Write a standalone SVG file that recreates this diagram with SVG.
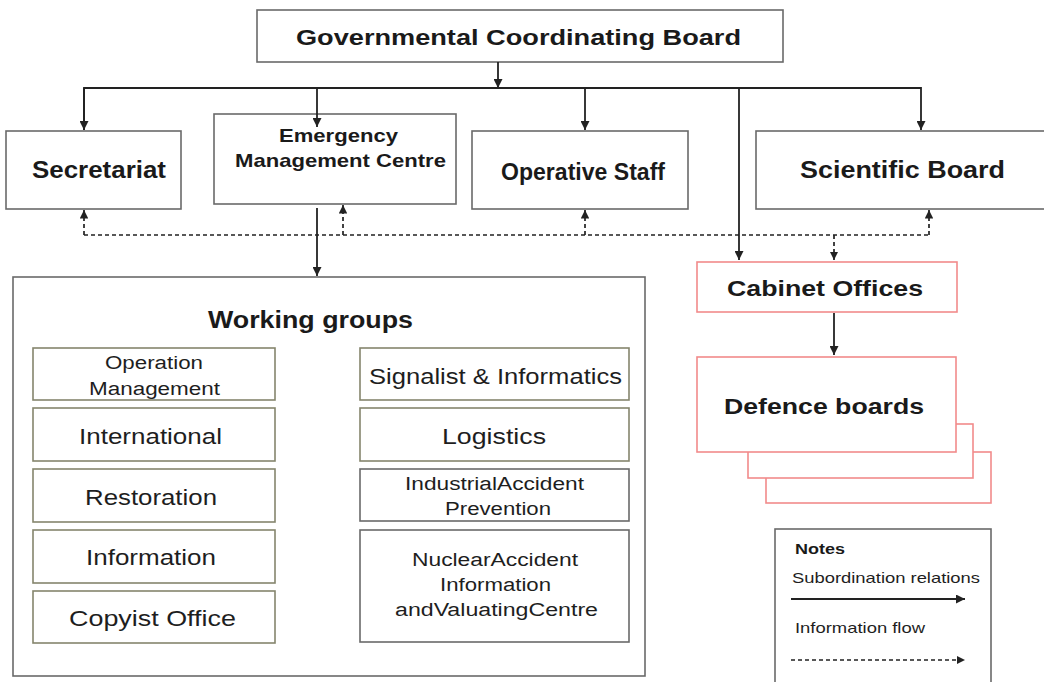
<svg xmlns="http://www.w3.org/2000/svg" width="1044" height="682" viewBox="0 0 1044 682">
<style>
.box{fill:#fff;stroke:#6a6a6a;stroke-width:1.6}
.red{fill:#fff;stroke:#f28b8b;stroke-width:1.6}
.wg{fill:#fff;stroke:#85856d;stroke-width:1.6}
.b{font-family:"Liberation Sans",Arial,sans-serif;font-weight:bold;fill:#1a1a1a;text-anchor:middle}
.r{font-family:"Liberation Sans",Arial,sans-serif;fill:#1e1e1e;text-anchor:middle}
.ln{fill:none;stroke:#222;stroke-width:1.8}
.dl{fill:none;stroke:#222;stroke-width:1.7;stroke-dasharray:4 3}
</style>
<defs>
<marker id="ah" viewBox="0 0 10 10" refX="10" refY="5" markerWidth="5" markerHeight="5" orient="auto" markerUnits="strokeWidth">
<path d="M0,0 L10,5 L0,10 z" fill="#222"/>
</marker>
</defs>
<rect width="1044" height="682" fill="#fff"/>

<g id="gcb">
<rect class="box" x="257" y="10" width="526" height="52"/>
<text class="b" x="518.5" y="45" font-size="22" textLength="445" lengthAdjust="spacingAndGlyphs">Governmental Coordinating   Board</text>
</g>
<g id="secretariat">
<rect class="box" x="6" y="131" width="175" height="78"/>
<text class="b" x="99" y="178" font-size="23" textLength="134" lengthAdjust="spacingAndGlyphs">Secretariat</text>
</g>
<g id="emc">
<rect class="box" x="214" y="114" width="242" height="90"/>
<text class="b" x="338.5" y="142" font-size="19" textLength="119" lengthAdjust="spacingAndGlyphs">Emergency</text>
<text class="b" x="340.5" y="167" font-size="19" textLength="211" lengthAdjust="spacingAndGlyphs">Management Centre</text>
</g>
<g id="operative">
<rect class="box" x="472" y="131" width="216" height="78"/>
<text class="b" x="583" y="180" font-size="23" textLength="164" lengthAdjust="spacingAndGlyphs">Operative Staff</text>
</g>
<g id="scientific">
<rect class="box" x="756" y="131" width="300" height="78"/>
<text class="b" x="902.5" y="178" font-size="23" textLength="205" lengthAdjust="spacingAndGlyphs">Scientific Board</text>
</g>

<g id="working-groups">
<rect class="box" x="13" y="277" width="632" height="399"/>
<text class="b" x="310.5" y="328" font-size="23" textLength="205" lengthAdjust="spacingAndGlyphs">Working groups</text>
</g>
<g id="wg-operation">
<rect class="wg" x="33" y="348" width="242" height="52"/>
<text class="r" x="154" y="369" font-size="18" textLength="98" lengthAdjust="spacingAndGlyphs">Operation</text>
<text class="r" x="154.5" y="395" font-size="18" textLength="131" lengthAdjust="spacingAndGlyphs">Management</text>
</g>
<g id="wg-international">
<rect class="wg" x="33" y="408" width="242" height="53"/>
<text class="r" x="150.5" y="444" font-size="22" textLength="143" lengthAdjust="spacingAndGlyphs">International</text>
</g>
<g id="wg-restoration">
<rect class="wg" x="33" y="469" width="242" height="53"/>
<text class="r" x="151" y="505" font-size="22" textLength="132" lengthAdjust="spacingAndGlyphs">Restoration</text>
</g>
<g id="wg-information">
<rect class="wg" x="33" y="530" width="242" height="53"/>
<text class="r" x="151" y="565" font-size="22" textLength="130" lengthAdjust="spacingAndGlyphs">Information</text>
</g>
<g id="wg-copyist">
<rect class="wg" x="33" y="591" width="242" height="52"/>
<text class="r" x="152.5" y="626" font-size="22" textLength="167" lengthAdjust="spacingAndGlyphs">Copyist  Office</text>
</g>
<g id="wg-signalist">
<rect class="wg" x="360" y="348" width="269" height="52"/>
<text class="r" x="495.5" y="384" font-size="22" textLength="253" lengthAdjust="spacingAndGlyphs">Signalist &amp; Informatics</text>
</g>
<g id="wg-logistics">
<rect class="wg" x="360" y="408" width="269" height="53"/>
<text class="r" x="494" y="444" font-size="22" textLength="104" lengthAdjust="spacingAndGlyphs">Logistics</text>
</g>
<g id="wg-industrial">
<rect class="box" x="360" y="469" width="269" height="52"/>
<text class="r" x="494.5" y="490" font-size="18" textLength="179" lengthAdjust="spacingAndGlyphs">IndustrialAccident</text>
<text class="r" x="498" y="515" font-size="18" textLength="106" lengthAdjust="spacingAndGlyphs">Prevention</text>
</g>
<g id="wg-nuclear">
<rect class="box" x="360" y="530" width="269" height="112"/>
<text class="r" x="495" y="566" font-size="18" textLength="166" lengthAdjust="spacingAndGlyphs">NuclearAccident</text>
<text class="r" x="495.5" y="591" font-size="18" textLength="111" lengthAdjust="spacingAndGlyphs">Information</text>
<text class="r" x="496.5" y="616" font-size="18" textLength="203" lengthAdjust="spacingAndGlyphs">andValuatingCentre</text>
</g>

<g id="cabinet">
<rect class="red" x="697" y="262" width="260" height="50"/>
<text class="b" x="825" y="296" font-size="22" textLength="196" lengthAdjust="spacingAndGlyphs">Cabinet  Offices</text>
</g>
<g id="defence">
<rect class="red" x="766" y="452" width="225" height="51"/>
<rect class="red" x="748" y="424" width="225" height="54"/>
<rect class="red" x="697" y="357" width="259" height="95"/>
<text class="b" x="824" y="414" font-size="22" textLength="200" lengthAdjust="spacingAndGlyphs">Defence  boards</text>
</g>

<g id="notes">
<rect class="box" x="775" y="529" width="216" height="160"/>
<text class="b" x="795" y="554" font-size="15" style="text-anchor:start" textLength="50" lengthAdjust="spacingAndGlyphs">Notes</text>
<text class="r" x="792" y="583" font-size="15" style="text-anchor:start" textLength="188" lengthAdjust="spacingAndGlyphs">Subordination relations</text>
<line class="ln" x1="791" y1="599" x2="965" y2="599" marker-end="url(#ah)"/>
<text class="r" x="795" y="633" font-size="15" style="text-anchor:start" textLength="130" lengthAdjust="spacingAndGlyphs">Information flow</text>
<line class="dl" x1="791" y1="660" x2="965" y2="660" marker-end="url(#ah)"/>
</g>

<g id="connectors">
<line class="ln" x1="498" y1="62" x2="498" y2="88" marker-end="url(#ah)"/>
<polyline class="ln" points="84,130 84,88 921,88 921,130" marker-end="url(#ah)"/>
<line class="ln" x1="84" y1="88" x2="84" y2="130" marker-end="url(#ah)"/>
<line class="ln" x1="317" y1="88" x2="317" y2="127" marker-end="url(#ah)"/>
<line class="ln" x1="585" y1="88" x2="585" y2="130" marker-end="url(#ah)"/>
<line class="ln" x1="739" y1="88" x2="739" y2="260" marker-end="url(#ah)"/>
<line class="ln" x1="317" y1="208" x2="317" y2="276" marker-end="url(#ah)"/>
<line class="ln" x1="834" y1="313" x2="834" y2="355" marker-end="url(#ah)"/>
<polyline class="dl" points="84,235 929,235"/>
<line class="dl" x1="84" y1="235" x2="84" y2="210" marker-end="url(#ah)"/>
<line class="dl" x1="343" y1="235" x2="343" y2="205" marker-end="url(#ah)"/>
<line class="dl" x1="585" y1="235" x2="585" y2="210" marker-end="url(#ah)"/>
<line class="dl" x1="929" y1="235" x2="929" y2="210" marker-end="url(#ah)"/>
<line class="dl" x1="834" y1="235" x2="834" y2="260" marker-end="url(#ah)"/>
</g>
</svg>
